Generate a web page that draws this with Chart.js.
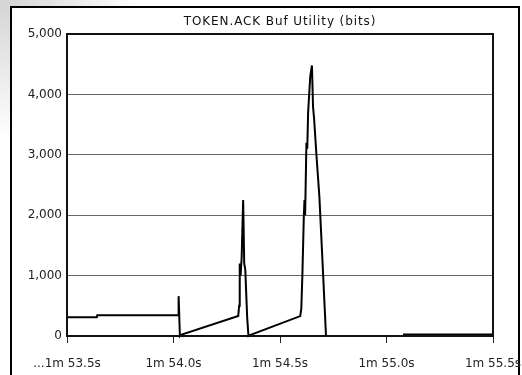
<!DOCTYPE html>
<html>
<head>
<meta charset="utf-8">
<script src="https://cdn.jsdelivr.net/npm/chart.js@4"></script>
<style>
    html, body { margin: 0; padding: 0; background: #fff; }
    #wrap { width: 522px; height: 375px; position: relative; }
</style>
</head>
<body>
<div id="wrap"><canvas id="myChart" width="522" height="375"></canvas></div>
<script>
// time in seconds (113.5 = 1m 53.5s)
var times = [
    113.500, 113.640, 113.642, 114.022, 114.024, 114.030, 114.035,
    114.304, 114.308, 114.311, 114.315, 114.320, 114.327, 114.332, 114.337, 114.346, 114.352, 114.356,
    114.595, 114.600, 114.605, 114.612, 114.615, 114.618, 114.624, 114.628, 114.632, 114.642, 114.650,
    114.655, 114.660, 114.671, 114.685, 114.704, 114.712, 114.716,
    115.080, 115.082, 115.500
];
var bits = [
    310, 310, 345, 345, 660, 0, 20,
    330, 500, 1200, 1000, 1300, 2250, 1200, 1100, 300, 0, 10,
    330, 450, 1000, 2000, 2250, 2000, 3200, 3100, 3700, 4300, 4480,
    3800, 3600, 3000, 2300, 900, 300, 0,
    0, 25, 25
];
var chartTitle = "TOKEN.ACK Buf Utility (bits)";
var xMin = 113.5, xMax = 115.5, xStep = 0.5;
var yMin = 0, yMax = 5000, yStep = 1000;

var fontFamily = "'DejaVu Sans', sans-serif";

var getPoints = (xs, ys) => {
    let data = [];
    for (let i = 0; i < xs.length; i++) {
        data.push({ x: xs[i], y: ys[i] });
    }
    return data;
}

var formatTime = (value, index) => {
    let mins = Math.floor(value / 60);
    let secs = (value - mins * 60).toFixed(1);
    let label = mins + "m " + secs + "s";
    return index === 0 ? "..." + label : label;
}

var panelPlugin = {
    id: 'panel',
    beforeInit: (chart) => {
        chart.ctx.letterSpacing = '0.5px';
    },
    beforeDraw: (chart) => {
        const ctx = chart.ctx;
        ctx.save();
        // faded backdrop in the corner
        let grad = ctx.createRadialGradient(0, 0, 0, 0, 0, 140);
        grad.addColorStop(0, '#d4d4d4');
        grad.addColorStop(1, '#ffffff');
        ctx.fillStyle = grad;
        ctx.fillRect(0, 0, chart.width, chart.height);
        ctx.fillStyle = '#fff';
        ctx.fillRect(11, 7, 508, chart.height);
        ctx.strokeStyle = '#000';
        ctx.lineWidth = 2;
        ctx.strokeRect(11, 7, 508, chart.height + 10);
        ctx.restore();
    },
    afterDraw: (chart) => {
        const ctx = chart.ctx;
        const a = chart.chartArea;
        ctx.save();
        ctx.strokeStyle = '#111';
        ctx.lineWidth = 2;
        ctx.strokeRect(a.left, a.top, a.right - a.left, a.bottom - a.top);
        ctx.fillStyle = '#111';
        ctx.font = "12px " + fontFamily;
        ctx.letterSpacing = '0.9px';
        ctx.textAlign = 'center';
        ctx.textBaseline = 'middle';
        ctx.fillText(chartTitle, (a.left + a.right) / 2, 22);
        ctx.restore();
    }
};

window.onload = () => {
    const ctx = document.getElementById('myChart').getContext('2d');
    new Chart(ctx, {
        type: 'line',
        data: {
            datasets: [{
                label: chartTitle,
                data: getPoints(times, bits),
                borderColor: '#000',
                backgroundColor: '#000',
                borderWidth: 2,
                pointRadius: 0,
                tension: 0,
                fill: false,
                clip: 3
            }]
        },
        options: {
            responsive: false,
            animation: false,
            layout: { padding: { left: 10, right: 29, top: 34, bottom: 0 } },
            plugins: {
                legend: { display: false },
                title: { display: false },
                tooltip: { enabled: false }
            },
            scales: {
                x: {
                    type: 'linear',
                    min: xMin,
                    max: xMax,
                    afterFit: (scale) => {
                        scale.height = 39;
                        scale.paddingLeft = 0;
                        scale.paddingRight = 0;
                    },
                    afterBuildTicks: (scale) => {
                        let t = [];
                        for (let v = xMin; v <= xMax + 1e-9; v += xStep) t.push({ value: v });
                        scale.ticks = t;
                    },
                    ticks: {
                        callback: formatTime,
                        color: '#222',
                        font: { family: fontFamily, size: 12 },
                        padding: 14,
                        maxRotation: 0,
                        autoSkip: false
                    },
                    grid: {
                        drawOnChartArea: false,
                        drawTicks: true,
                        tickLength: 7,
                        color: '#222'
                    },
                    border: { display: false }
                },
                y: {
                    min: yMin,
                    max: yMax,
                    afterFit: (scale) => { scale.width = 57; },
                    ticks: {
                        stepSize: yStep,
                        callback: (v) => v.toLocaleString('en-US'),
                        color: '#222',
                        font: { family: fontFamily, size: 12 },
                        padding: 5
                    },
                    grid: {
                        drawTicks: false,
                        color: '#666',
                        lineWidth: 1
                    },
                    border: { display: false }
                }
            }
        },
        plugins: [panelPlugin]
    });
}
</script>
</body>
</html>
